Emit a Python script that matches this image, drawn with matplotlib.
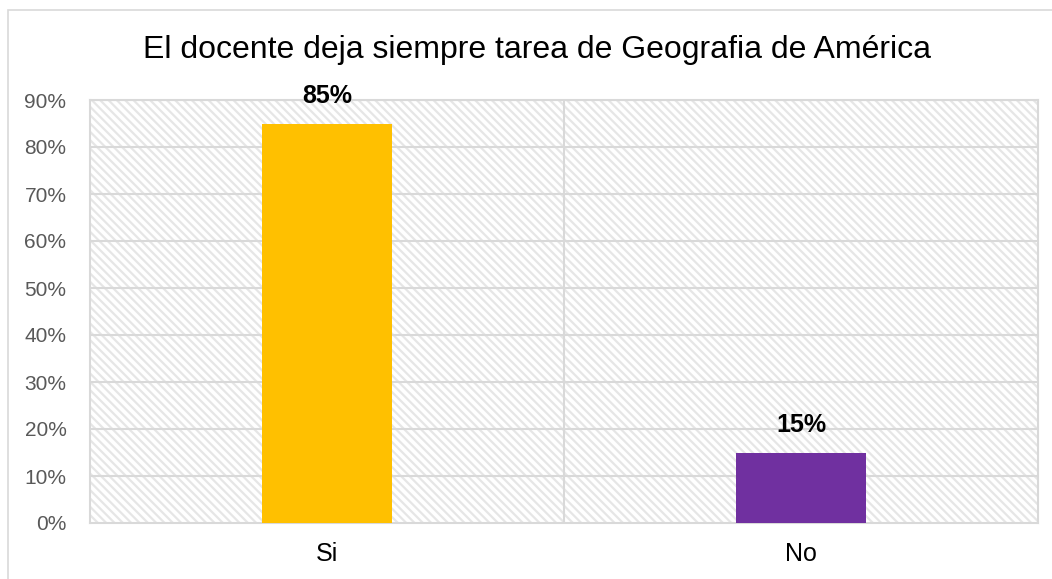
import matplotlib.pyplot as plt
from matplotlib.patches import Rectangle

# dados
categorias = ['Si', 'No']
valores = [85, 15]
cores = ['#FFC000', '#7030A0']
titulo = 'El docente deja siempre tarea de Geografia de América'

plt.rcParams['font.family'] = ['Liberation Sans', 'DejaVu Sans']
plt.rcParams['hatch.linewidth'] = 1.6
plt.rcParams['hatch.color'] = '#e6e6e6'

fig = plt.figure(figsize=(10.52, 5.79), dpi=100)
ax = fig.add_axes([90 / 1052, 1 - 523 / 579, 948 / 1052, 423 / 579])

# borda exterior do gráfico
fig.patches.append(Rectangle((8 / 1052, -0.1), 1.1, 0.1 + (579 - 10) / 579,
                             transform=fig.transFigure, fill=False,
                             edgecolor='#d9d9d9', linewidth=1.2))

# fundo tracejado
ax.add_patch(Rectangle((0, 0), 1, 1, transform=ax.transAxes, facecolor='white',
                       edgecolor='#e6e6e6', hatch='\\\\\\\\', linewidth=0, zorder=0))

x = range(len(categorias))
ax.bar(x, valores, width=0.274, color=cores, zorder=3)
for xi, v in zip(x, valores):
    ax.text(xi, v + 3.2, f'{v}%', ha='center', va='bottom', fontsize=18,
            fontweight='bold', color='#000000', zorder=4)

ax.set_xlim(-0.5, 1.5)
ax.set_ylim(0, 90)
ax.set_yticks(range(0, 91, 10))
ax.set_yticklabels([f'{t}%' for t in range(0, 91, 10)], fontsize=15, color='#595959')
ax.set_xticks(list(x))
ax.set_xticklabels(categorias, fontsize=18, color='#000000')
ax.tick_params(axis='x', length=0, pad=14)
ax.tick_params(axis='y', length=0, pad=17)

for y in range(10, 91, 10):
    ax.axhline(y, color='#d9d9d9', linewidth=1.5, zorder=1)
ax.axvline(0.5, color='#d9d9d9', linewidth=1.5, zorder=1)
for s in ax.spines.values():
    s.set_color('#d9d9d9')
    s.set_linewidth(1.5)

fig.text(537 / 1052, 1 - 50 / 579, titulo, ha='center', va='center', fontsize=23, color='#000000')

fig.savefig('out.png', dpi=100)
